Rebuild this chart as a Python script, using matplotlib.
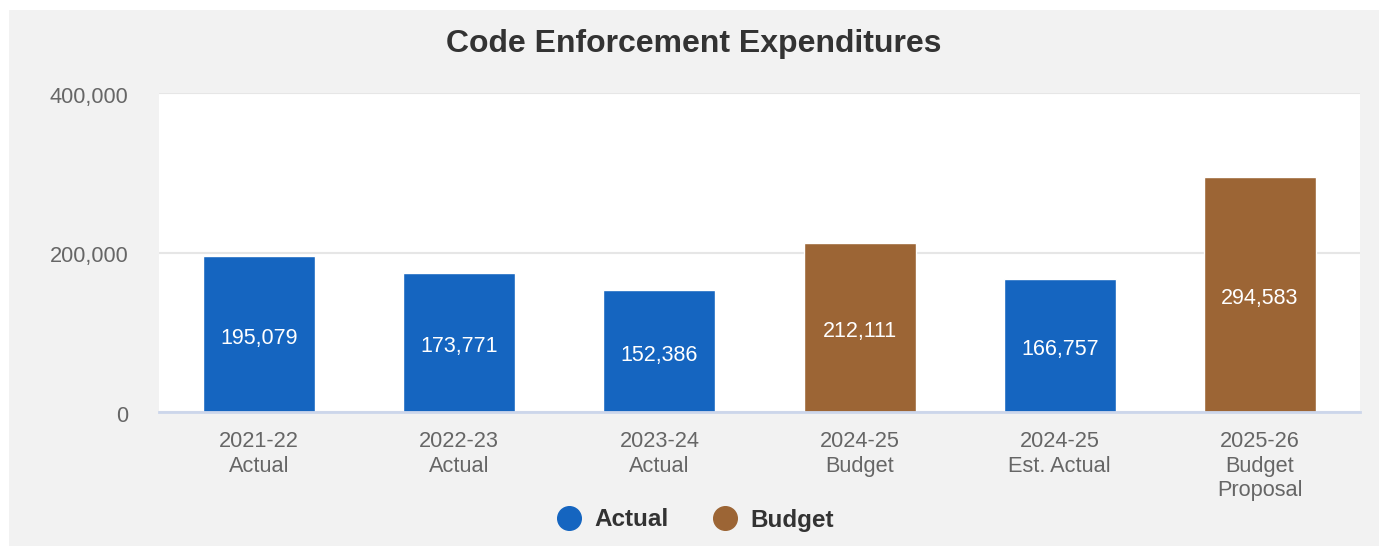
import matplotlib
matplotlib.use("Agg")
import matplotlib.pyplot as plt
from matplotlib.patches import Rectangle
from matplotlib.lines import Line2D
from matplotlib.transforms import ScaledTranslation

categories = ["2021-22\nActual", "2022-23\nActual", "2023-24\nActual",
              "2024-25\nBudget", "2024-25\nEst. Actual", "2025-26\nBudget\nProposal"]
values = [195079, 173771, 152386, 212111, 166757, 294583]
series = ["Actual", "Actual", "Actual", "Budget", "Actual", "Budget"]
colors = {"Actual": "#1565C0", "Budget": "#9C6535"}
y_ticks = [0, 200000, 400000]

plt.rcParams["font.family"] = ["Liberation Sans", "DejaVu Sans"]

W, H = 1379, 546
fig = plt.figure(figsize=(W / 100, H / 100), dpi=100)
fig.patch.set_facecolor("white")

# gray panel behind the chart
fig.add_artist(Rectangle((9 / W, 0), 1 - 9 / W, 1 - 10 / H, transform=fig.transFigure,
                         facecolor="#F2F2F2", edgecolor="none", zorder=-10))

left, right, top, bottom = 159, 1360, 93, 412
ax = fig.add_axes([left / W, 1 - bottom / H, (right - left) / W, (bottom - top) / H])
ax.set_facecolor("white")

x = list(range(len(values)))
ax.bar(x, values, width=0.56, color=[colors[s] for s in series],
       edgecolor="white", linewidth=1.0, zorder=3)

label_shift = ScaledTranslation(0, -4 / 100, fig.dpi_scale_trans)
for xi, v in zip(x, values):
    ax.text(xi, v / 2, f"{v:,}", ha="center", va="center", color="white",
            fontsize=15.5, zorder=4, transform=ax.transData + label_shift)

ax.set_xlim(-0.5, len(values) - 0.5)
ax.set_ylim(0, 400000)
ax.set_yticks(y_ticks)
ax.set_yticklabels([f"{t:,}" for t in y_ticks])
ax.set_xticks(x)
ax.set_xticklabels(categories, fontsize=15.7, color="#666666", linespacing=1.22)
ax.tick_params(axis="y", length=0, pad=22, labelsize=15.7, labelcolor="#666666")
ax.tick_params(axis="x", length=0, pad=14)
shift = ScaledTranslation(0, -4 / 100, fig.dpi_scale_trans)
for lbl in ax.get_yticklabels():
    lbl.set_va("center")
    lbl.set_transform(lbl.get_transform() + shift)

ax.grid(axis="y", color="#E6E6E6", linewidth=1.5, zorder=0)
for s in ["top", "right", "left"]:
    ax.spines[s].set_visible(False)
ax.spines["bottom"].set_color("#CCD6EB")
ax.spines["bottom"].set_linewidth(2)
ax.spines["bottom"].set_zorder(5)

fig.text(694 / W, 1 - 44 / H, "Code Enforcement Expenditures", ha="center", va="center",
         fontsize=23, fontweight="bold", color="#333333")

handles = [Line2D([], [], marker="o", linestyle="none", markersize=17,
                  markerfacecolor=colors[k], markeredgecolor=colors[k], label=k)
           for k in ["Actual", "Budget"]]
fig.legend(handles=handles, loc="center", bbox_to_anchor=(694 / W, 1 - 520 / H),
           ncol=2, frameon=False, prop={"weight": "bold", "size": 17.5},
           labelcolor="#333333", handletextpad=0.45, columnspacing=1.7, handlelength=1.2)

fig.savefig("out.png", dpi=100, facecolor=fig.get_facecolor())
